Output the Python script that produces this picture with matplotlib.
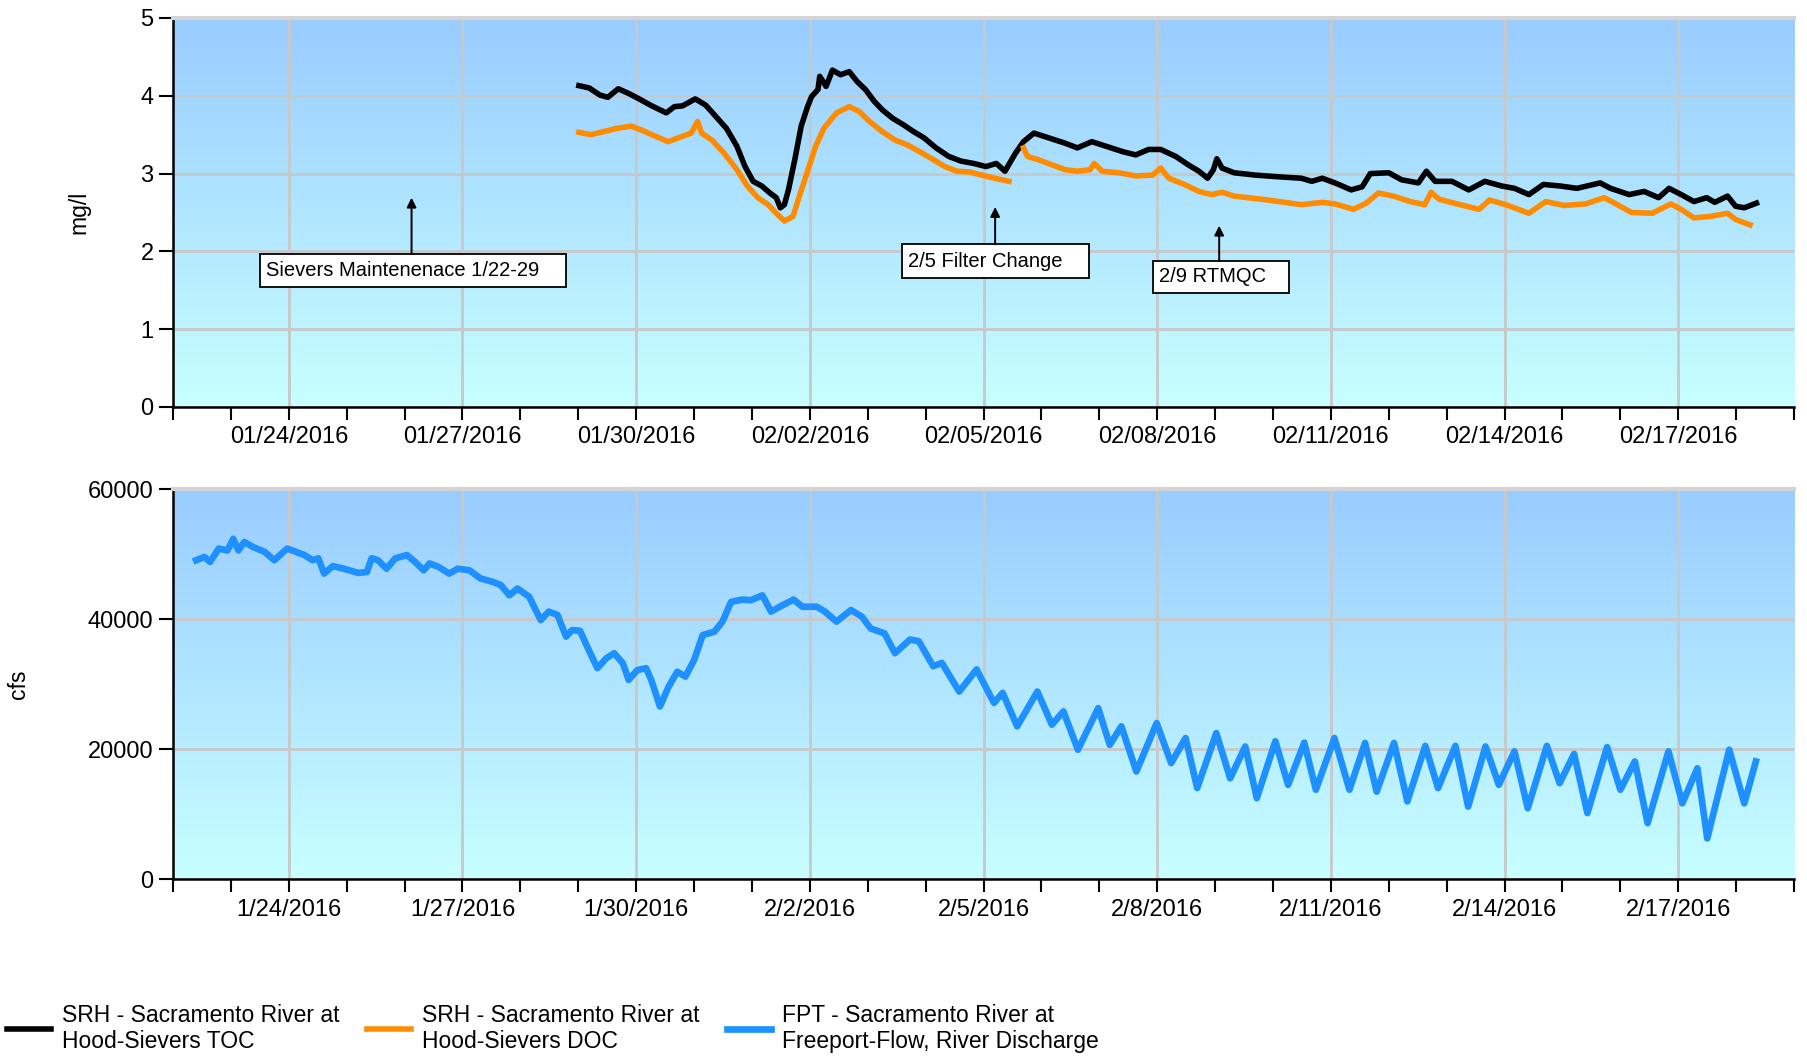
import numpy as np
import pandas as pd
import matplotlib
matplotlib.use("Agg")
import matplotlib.pyplot as plt
import matplotlib.dates as mdates
from matplotlib.colors import LinearSegmentedColormap
from matplotlib.patches import Rectangle
from matplotlib.ticker import FixedLocator, FuncFormatter, MultipleLocator

plt.rcParams["font.family"] = ["Liberation Sans", "DejaVu Sans"]

START = pd.Timestamp("2016-01-22")
END = pd.Timestamp("2016-02-19")

# SRH TOC (mg/l), time in days after 1/22/2016 00:00
TOC_DAYS = [7.01, 7.19, 7.37, 7.51, 7.69, 7.87, 8.05, 8.27, 8.52, 8.66, 8.80, 9.02, 9.20,
            9.38, 9.56, 9.74, 9.88, 10.02, 10.17, 10.31, 10.42, 10.49, 10.56, 10.63, 10.74,
            10.85, 10.96, 11.03, 11.14, 11.17, 11.28, 11.39, 11.53, 11.68, 11.82, 11.96,
            12.11, 12.25, 12.43, 12.61, 12.79, 12.97, 13.18, 13.40, 13.61, 13.83, 14.04,
            14.22, 14.37, 14.55, 14.69, 14.87, 15.12, 15.41, 15.62, 15.87, 16.12, 16.41,
            16.63, 16.85, 17.06, 17.32, 17.54, 17.72, 17.87, 17.97, 18.03, 18.12, 18.33,
            18.70, 19.06, 19.49, 19.67, 19.85, 20.07, 20.35, 20.54, 20.68, 21.00, 21.22,
            21.51, 21.65, 21.80, 22.09, 22.38, 22.66, 22.95, 23.17, 23.42, 23.67, 23.96,
            24.25, 24.65, 24.83, 25.15, 25.41, 25.66, 25.84, 26.05, 26.27, 26.49, 26.63,
            26.85, 26.99, 27.14, 27.28, 27.35]
TOC_VALUES = [4.13, 4.10, 4.01, 3.98, 4.09, 4.03, 3.96, 3.87, 3.78, 3.86, 3.87, 3.96, 3.88,
              3.73, 3.58, 3.35, 3.09, 2.90, 2.84, 2.75, 2.69, 2.56, 2.60, 2.79, 3.18,
              3.61, 3.86, 3.99, 4.08, 4.25, 4.12, 4.33, 4.27, 4.31, 4.18, 4.08,
              3.93, 3.82, 3.71, 3.63, 3.54, 3.46, 3.33, 3.22, 3.16, 3.13, 3.09,
              3.13, 3.03, 3.26, 3.41, 3.52, 3.46, 3.39, 3.33, 3.41, 3.35, 3.28,
              3.24, 3.31, 3.31, 3.22, 3.11, 3.03, 2.94, 3.05, 3.19, 3.07, 3.01,
              2.98, 2.96, 2.94, 2.90, 2.94, 2.88, 2.79, 2.83, 3.00, 3.01, 2.92,
              2.88, 3.03, 2.90, 2.90, 2.79, 2.90, 2.84, 2.81, 2.73, 2.86, 2.84,
              2.81, 2.88, 2.81, 2.73, 2.77, 2.69, 2.81, 2.73, 2.64, 2.69, 2.63,
              2.71, 2.58, 2.56, 2.60, 2.62]

# SRH DOC (mg/l); NaN marks the break after the filter change
DOC_DAYS = [7.01, 7.22, 7.44, 7.66, 7.91, 8.09, 8.30, 8.55, 8.73, 8.95, 9.06, 9.13, 9.31,
            9.52, 9.74, 9.92, 10.10, 10.28, 10.42, 10.56, 10.71, 10.81, 10.96, 11.10,
            11.24, 11.46, 11.68, 11.85, 12.03, 12.25, 12.47, 12.68, 12.90, 13.11, 13.33,
            13.54, 13.76, 13.97, 14.19, 14.44, 14.56, 14.69, 14.76, 14.94, 15.19, 15.41,
            15.62, 15.84, 15.91, 16.05, 16.34, 16.63, 16.92, 17.06, 17.20, 17.47, 17.72,
            17.94, 18.12, 18.33, 18.91, 19.49, 19.85, 20.07, 20.39, 20.61, 20.82, 21.08,
            21.37, 21.62, 21.73, 21.87, 22.23, 22.56, 22.74, 23.02, 23.42, 23.71, 24.03,
            24.40, 24.72, 24.90, 25.19, 25.55, 25.87, 26.05, 26.27, 26.56, 26.85, 26.99,
            27.24]
DOC_VALUES = [3.53, 3.50, 3.54, 3.58, 3.61, 3.56, 3.49, 3.41, 3.46, 3.52, 3.67, 3.52, 3.43,
              3.26, 3.05, 2.84, 2.69, 2.60, 2.49, 2.39, 2.45, 2.69, 3.03, 3.35,
              3.58, 3.78, 3.86, 3.80, 3.67, 3.54, 3.43, 3.37, 3.28, 3.19, 3.09,
              3.03, 3.02, 2.98, 2.94, 2.90, np.nan, 3.33, 3.22, 3.18, 3.11, 3.05,
              3.03, 3.05, 3.13, 3.03, 3.01, 2.97, 2.98, 3.07, 2.94, 2.86, 2.77,
              2.73, 2.76, 2.71, 2.66, 2.60, 2.63, 2.61, 2.54, 2.62, 2.75, 2.71,
              2.64, 2.60, 2.76, 2.67, 2.60, 2.54, 2.66, 2.60, 2.49, 2.64, 2.59,
              2.61, 2.69, 2.62, 2.50, 2.49, 2.61, 2.54, 2.43, 2.45, 2.49, 2.41,
              2.34]

# FPT river discharge (cfs)
FLOW_DAYS = [0.40, 0.54, 0.64, 0.79, 0.94, 1.04, 1.13, 1.23, 1.38, 1.58, 1.75, 1.97, 2.12,
             2.27, 2.41, 2.51, 2.61, 2.76, 2.95, 3.20, 3.35, 3.43, 3.54, 3.69, 3.84, 4.04,
             4.18, 4.33, 4.43, 4.58, 4.77, 4.92, 5.12, 5.31, 5.51, 5.66, 5.81, 5.95, 6.15,
             6.35, 6.49, 6.64, 6.79, 6.89, 7.03, 7.18, 7.33, 7.48, 7.62, 7.77, 7.87, 8.02,
             8.17, 8.26, 8.41, 8.56, 8.71, 8.85, 9.00, 9.15, 9.35, 9.49, 9.64, 9.84, 9.98,
             10.18, 10.33, 10.48, 10.72, 10.87, 11.12, 11.26, 11.46, 11.71, 11.90, 12.05,
             12.29, 12.47, 12.73, 12.88, 13.13, 13.28, 13.58, 13.88, 14.18, 14.33, 14.58,
             14.93, 15.18, 15.38, 15.63, 15.98, 16.18, 16.38, 16.64, 16.99, 17.24, 17.49,
             17.69, 18.02, 18.26, 18.52, 18.72, 19.04, 19.26, 19.54, 19.74, 20.06, 20.32,
             20.59, 20.79, 21.09, 21.32, 21.63, 21.85, 22.15, 22.37, 22.67, 22.90, 23.17,
             23.40, 23.73, 23.95, 24.20, 24.43, 24.77, 25.00, 25.25, 25.47, 25.83, 26.07,
             26.33, 26.50, 26.88, 27.14, 27.34]
FLOW_VALUES = [49100, 49600, 48850, 50900, 50600, 52400, 50600, 51900, 51150, 50400, 49100,
               50900, 50400, 49900, 49100, 49400, 47050, 48200, 47800, 47150, 47300, 49400,
               49100, 47800, 49400, 49900, 48850, 47550, 48600, 48100, 47050, 47800, 47550,
               46300, 45800, 45300, 43700, 44750, 43500, 39900, 41200, 40700, 37350, 38350,
               38250, 35300, 32500, 34000, 34800, 33250, 30700, 32200, 32500, 30700, 26600,
               29650, 31950, 31200, 33750, 37600, 38100, 39650, 42700, 43050, 42950, 43700,
               41200, 41950, 43050, 41950, 41950, 41200, 39650, 41450, 40400, 38600, 37850,
               34800, 36900, 36650, 32800, 33300, 28900, 32300, 27150, 28700, 23550, 28900,
               23800, 25850, 19950, 26350, 20700, 23550, 16600, 24050, 17900, 21750, 14050,
               22500, 15550, 20450, 12500, 21250, 14550, 21050, 13800, 21750, 13800, 21000,
               13500, 21000, 12000, 20550, 14050, 20550, 11200, 20450, 14550, 19700, 10950,
               20550, 14800, 19300, 10200, 20350, 13800, 18150, 8650, 19700, 11700, 17100,
               6300, 19950, 11700, 18150]

SERIES_LABELS = ["SRH - Sacramento River at\nHood-Sievers TOC",
                 "SRH - Sacramento River at\nHood-Sievers DOC",
                 "FPT - Sacramento River at\nFreeport-Flow, River Discharge"]

# notes: (text, arrow tip day, arrow tip value, box left, box right, box bottom, box top)
NOTES = [("Sievers Maintenenace 1/22-29", 4.12, 2.69, 1.51, 6.79, 1.54, 1.97),
         ("2/5 Filter Change", 14.20, 2.57, 12.59, 15.82, 1.66, 2.09),
         ("2/9 RTMQC", 18.07, 2.33, 16.93, 19.28, 1.47, 1.88)]


def to_num(days):
    return mdates.date2num(START + pd.to_timedelta(np.asarray(days, dtype=float), unit="D"))


BG_CMAP = LinearSegmentedColormap.from_list("chart_bg", ["#c8ffff", "#99ccff"])
TICK_FS = 17
FS = 16.5


def style_axes(ax, ymax, ystep, fmt):
    # vertical gradient fill behind the plot area
    ax.imshow(np.linspace(0, 1, 256).reshape(-1, 1), cmap=BG_CMAP, origin="lower",
              extent=[0, 1, 0, 1], transform=ax.transAxes, aspect="auto", zorder=0)
    ax.set_xlim(START, END)
    ax.set_ylim(0, ymax)
    ax.yaxis.set_major_locator(MultipleLocator(ystep))
    labeled = pd.date_range("2016-01-24", "2016-02-17", freq="3D")
    ax.xaxis.set_major_locator(FixedLocator(mdates.date2num(labeled)))
    ax.xaxis.set_minor_locator(mdates.DayLocator())
    ax.xaxis.set_major_formatter(FuncFormatter(lambda v, _: fmt(mdates.num2date(v))))
    ax.set_axisbelow(True)
    ax.grid(True, color="#c8c8c8", linewidth=2.0)
    ax.tick_params(axis="x", which="both", direction="out", length=9, width=1.5,
                   labelsize=TICK_FS, pad=5)
    ax.tick_params(axis="y", direction="out", length=10, width=1.5,
                   labelsize=TICK_FS, pad=4)
    for side in ("left", "bottom"):
        ax.spines[side].set_linewidth(1.8)
    ax.spines["right"].set_visible(False)
    ax.spines["top"].set_color("#d4d4d4")
    ax.spines["top"].set_linewidth(3)


fig = plt.figure(figsize=(18.08, 10.57), dpi=100)
ax_top = fig.add_axes([0.0957, 0.615, 0.8966, 0.368])
ax_bot = fig.add_axes([0.0957, 0.168, 0.8966, 0.369])

style_axes(ax_top, 5, 1, lambda d: d.strftime("%m/%d/%Y"))
style_axes(ax_bot, 60000, 20000, lambda d: f"{d.month}/{d.day}/{d.year}")

h_toc, = ax_top.plot(to_num(TOC_DAYS), TOC_VALUES, color="black", lw=4.0,
                     solid_joinstyle="round", zorder=3)
h_doc, = ax_top.plot(to_num(DOC_DAYS), DOC_VALUES, color="#ff8c00", lw=4.0,
                     solid_joinstyle="round", zorder=3)
h_flow, = ax_bot.plot(to_num(FLOW_DAYS), FLOW_VALUES, color="#1e90ff", lw=4.8,
                      solid_joinstyle="round", zorder=3)

for text, tip_d, tip_v, x0, x1, y0, y1 in NOTES:
    left, right = to_num([x0, x1])
    ax_top.add_patch(Rectangle((left, y0), right - left, y1 - y0,
                               facecolor="white", edgecolor="black", lw=1.3, zorder=5))
    ax_top.text(left + 0.1, (y0 + y1) / 2, text, fontsize=14.5,
                ha="left", va="center", zorder=6)
    tip = to_num([tip_d])[0]
    ax_top.annotate("", xy=(tip, tip_v), xytext=(tip, y1),
                    arrowprops=dict(arrowstyle="-|>", color="black", lw=1.4,
                                    mutation_scale=14, shrinkA=0, shrinkB=0), zorder=6)

ax_top.set_ylabel("mg/l", fontsize=FS)
ax_top.yaxis.set_label_coords(-0.051, 0.5)
ax_bot.set_ylabel("cfs", fontsize=FS)
ax_bot.yaxis.set_label_coords(-0.088, 0.5)

fig.legend([h_toc, h_doc, h_flow], SERIES_LABELS, loc="center left",
           bbox_to_anchor=(0.004, 0.027), ncol=3, frameon=False, fontsize=FS,
           handlelength=1.9, handletextpad=0.5, columnspacing=1.2,
           borderpad=0, borderaxespad=0)

fig.savefig("out.png", dpi=100, facecolor="white")
